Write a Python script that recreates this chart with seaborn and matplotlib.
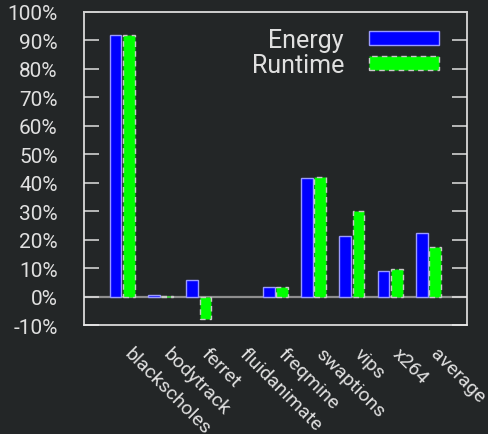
import numpy as np
import pandas as pd
import matplotlib
matplotlib.use("Agg")
import matplotlib.pyplot as plt
import matplotlib.transforms as mtransforms
from matplotlib.patches import Patch
import seaborn as sns

# Benchmark results (percent)
benchmarks = ["blackscholes", "bodytrack", "ferret", "fluidanimate", "freqmine",
              "swaptions", "vips", "x264", "average"]
energy = [91.7, 0.7, 6.0, 0.0, 3.3, 41.5, 21.3, 9.1, 22.5]
runtime = [92.0, 0.3, -7.9, 0.0, 3.3, 42.1, 30.1, 9.8, 17.5]
y_ticks = list(range(-10, 101, 10))

BG = "#232627"
FG = "#e0e0e0"
GRAY = "#8e8e8e"

sns.set_style("dark")
plt.rcParams["font.family"] = ["Roboto", "DejaVu Sans"]

df = pd.DataFrame({
    "benchmark": benchmarks * 2,
    "value": energy + runtime,
    "metric": ["Energy"] * len(benchmarks) + ["Runtime"] * len(benchmarks),
})

fig = plt.figure(figsize=(4.88, 4.35), dpi=100, facecolor=BG)
ax = fig.add_axes([0.1721, 0.2499, 0.7843, 0.7209])
ax.set_facecolor(BG)

sns.barplot(data=df, x="benchmark", y="value", hue="metric", order=benchmarks,
            palette={"Energy": "#0000ff", "Runtime": "#00ff00"},
            width=0.7, gap=0.12, saturation=1, errorbar=None, legend=False, ax=ax)

# bar outlines: solid lavender for energy, dashed light gray for runtime
for bar in ax.containers[0]:
    bar.set_edgecolor("#9a9aff")
    bar.set_linewidth(1.0)
    if bar.get_height() == 0:
        bar.set_visible(False)
for bar in ax.containers[1]:
    bar.set_edgecolor("#c8c8c8")
    bar.set_linestyle((0, (4, 3)))
    bar.set_linewidth(1.0)
    if bar.get_height() == 0:
        bar.set_visible(False)

ax.axhline(0, color=GRAY, lw=1.6, zorder=0.5)

ax.set_xlim(-1, 9)
ax.set_ylim(-10, 100)
ax.set_yticks(y_ticks)
ax.set_yticklabels([f"{t}%" for t in y_ticks])
ax.set_xlabel("")
ax.set_ylabel("")
ax.grid(False)

ax.tick_params(axis="y", direction="in", length=10.5, width=1.1, colors=FG,
               labelsize=15, pad=19, left=True, right=True)
ax.tick_params(axis="x", length=0, colors=FG, labelsize=14, pad=18)
for t, val in zip(ax.yaxis.get_major_ticks(), y_ticks):
    c = FG if val % 20 else GRAY
    t.tick1line.set_color(c)
    t.tick2line.set_color(c)
shift = mtransforms.ScaledTranslation(5 / 100, 0, fig.dpi_scale_trans)
for lab in ax.get_xticklabels():
    lab.set_rotation(-45)
    lab.set_ha("left")
    lab.set_va("center")
    lab.set_rotation_mode("anchor")
    lab.set_transform(lab.get_transform() + shift)

for side in ["left", "right", "bottom"]:
    ax.spines[side].set_color("#e8e8e8")
    ax.spines[side].set_linewidth(1.2)
ax.spines["top"].set_color("#cfcfcf")
ax.spines["top"].set_linewidth(1.4)
for s in ax.spines.values():
    s.set_visible(True)

handles = [Patch(facecolor="#0000ff", edgecolor="#9a9aff", lw=1.0, label="Energy"),
           Patch(facecolor="#00ff00", edgecolor="#c8c8c8", lw=1.0,
                 linestyle=(0, (4, 3)), label="Runtime")]
leg = ax.legend(handles=handles, loc="upper right", bbox_to_anchor=(0.9275, 0.949),
                markerfirst=False, frameon=False, fontsize=18, labelcolor=FG,
                handlelength=2.8, handleheight=0.5, handletextpad=1.0,
                labelspacing=0.04, borderpad=0, borderaxespad=0)

fig.savefig("out.png", dpi=100, facecolor=BG)
